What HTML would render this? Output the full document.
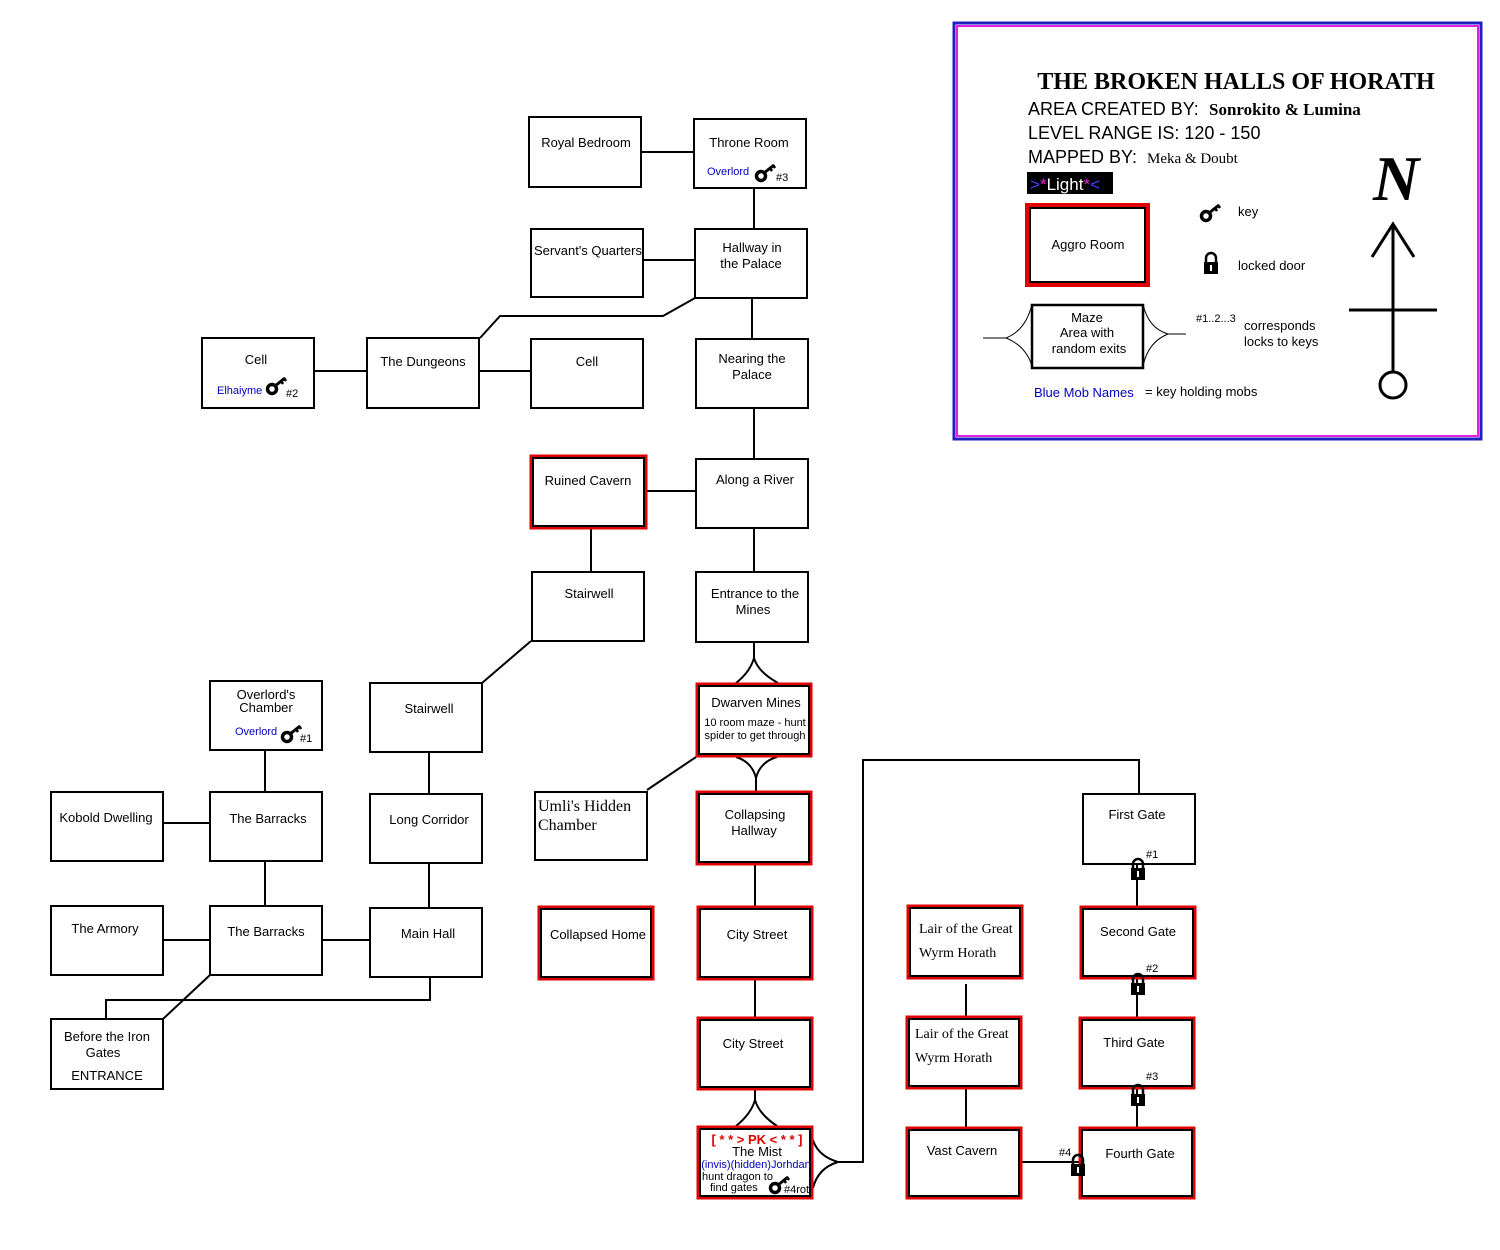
<!DOCTYPE html>
<html><head><meta charset="utf-8"><style>
html,body{margin:0;padding:0;background:#fff;}
svg{display:block;}
text{font-family:"Liberation Sans",sans-serif;font-size:13px;fill:#000;}
.s{font-family:"Liberation Serif",serif;}
.b{fill:#0000c0;font-size:11px;}
</style></head><body>
<svg width="1500" height="1250" viewBox="0 0 1500 1250" xmlns="http://www.w3.org/2000/svg">
<defs>
<g id="key"><circle cx="0" cy="0" r="4.5" fill="none" stroke="#000" stroke-width="3.5"/><line x1="3" y1="-3" x2="13" y2="-11" stroke="#000" stroke-width="3"/><line x1="9" y1="-8" x2="11" y2="-5" stroke="#000" stroke-width="2.5"/><line x1="12" y1="-11" x2="14" y2="-8" stroke="#000" stroke-width="2.5"/></g>
<g id="lock"><path d="M-5,0 v-4 a5,5 0 0 1 10,0 v4" fill="none" stroke="#000" stroke-width="2.5"/><rect x="-7" y="0" width="14" height="12" fill="#000"/><rect x="-1" y="3" width="2" height="6" fill="#fff"/></g>
</defs>
<g fill="none" stroke="#000" stroke-width="2">
<line x1="641" y1="152" x2="694" y2="152"/>
<line x1="754" y1="188" x2="754" y2="229"/>
<line x1="643" y1="260" x2="695" y2="260"/>
<polyline points="695,298 663,316 500,316 480,338"/>
<line x1="314" y1="371" x2="367" y2="371"/>
<line x1="479" y1="371" x2="531" y2="371"/>
<line x1="752" y1="298" x2="752" y2="339"/>
<line x1="754" y1="408" x2="754" y2="459"/>
<line x1="647" y1="491" x2="696" y2="491"/>
<line x1="591" y1="529" x2="591" y2="572"/>
<line x1="754" y1="528" x2="754" y2="572"/>
<line x1="531" y1="641" x2="482" y2="683"/>
<line x1="754" y1="642" x2="754" y2="658"/>
<path d="M736,683 Q750,672 754,658 Q758,672 778,683"/>
<path d="M736,757 Q752,762 756,778 Q760,762 777,757"/>
<line x1="756" y1="778" x2="756" y2="791"/>
<line x1="696" y1="757" x2="647" y2="790"/>
<line x1="265" y1="750" x2="265" y2="792"/>
<line x1="163" y1="823" x2="210" y2="823"/>
<line x1="429" y1="752" x2="429" y2="794"/>
<line x1="265" y1="861" x2="265" y2="906"/>
<line x1="429" y1="863" x2="429" y2="908"/>
<line x1="163" y1="940" x2="210" y2="940"/>
<line x1="322" y1="940" x2="370" y2="940"/>
<line x1="210" y1="975" x2="163" y2="1019"/>
<polyline points="106,1019 106,1000 430,1000 430,977"/>
<line x1="755" y1="865" x2="755" y2="906"/>
<line x1="755" y1="980" x2="755" y2="1017"/>
<line x1="755" y1="1090" x2="755" y2="1100"/>
<path d="M736,1126 Q751,1114 755,1100 Q759,1114 777,1126"/>
<path d="M813,1140 Q818,1156 838,1162 Q818,1168 813,1188"/>
<polyline points="838,1162 863,1162 863,760 1139,760 1139,794"/>
<line x1="1137" y1="864" x2="1137" y2="906"/>
<line x1="1137" y1="979" x2="1137" y2="1017"/>
<line x1="1137" y1="1089" x2="1137" y2="1127"/>
<line x1="1022" y1="1162" x2="1079" y2="1162"/>
<line x1="966" y1="984" x2="966" y2="1016"/>
<line x1="966" y1="1089" x2="966" y2="1127"/>
<rect x="529" y="117" width="112" height="70"/>
<rect x="694" y="119" width="112" height="69"/>
<rect x="531" y="229" width="112" height="68"/>
<rect x="695" y="229" width="112" height="69"/>
<rect x="202" y="338" width="112" height="70"/>
<rect x="367" y="338" width="112" height="70"/>
<rect x="531" y="339" width="112" height="69"/>
<rect x="696" y="339" width="112" height="69"/>
<rect x="696" y="459" width="112" height="69"/>
<rect x="532" y="572" width="112" height="69"/>
<rect x="696" y="572" width="112" height="70"/>
<rect x="210" y="681" width="112" height="69"/>
<rect x="370" y="683" width="112" height="69"/>
<rect x="51" y="792" width="112" height="69"/>
<rect x="210" y="792" width="112" height="69"/>
<rect x="370" y="794" width="112" height="69"/>
<rect x="535" y="792" width="112" height="68"/>
<rect x="1083" y="794" width="112" height="70"/>
<rect x="51" y="906" width="112" height="69"/>
<rect x="210" y="906" width="112" height="69"/>
<rect x="370" y="908" width="112" height="69"/>
<rect x="51" y="1019" width="112" height="70"/>
</g>
<g fill="none">
<g stroke="#e00000" stroke-width="3">
<rect x="531" y="456" width="115" height="72"/>
<rect x="697" y="684" width="114" height="72"/>
<rect x="697" y="792" width="114" height="72"/>
<rect x="539" y="907" width="114" height="72"/>
<rect x="698" y="907" width="114" height="72"/>
<rect x="908" y="906" width="114" height="72"/>
<rect x="1081" y="907" width="114" height="71"/>
<rect x="698" y="1018" width="114" height="71"/>
<rect x="907" y="1017" width="114" height="71"/>
<rect x="1080" y="1018" width="114" height="70"/>
<rect x="698" y="1127" width="114" height="71"/>
<rect x="907" y="1128" width="114" height="70"/>
<rect x="1080" y="1128" width="114" height="70"/>
</g>
<g stroke="#000" stroke-width="2">
<rect x="533" y="458" width="111" height="68"/>
<rect x="699" y="686" width="110" height="68"/>
<rect x="699" y="794" width="110" height="68"/>
<rect x="541" y="909" width="110" height="68"/>
<rect x="700" y="909" width="110" height="68"/>
<rect x="910" y="908" width="110" height="68"/>
<rect x="1083" y="909" width="110" height="67"/>
<rect x="700" y="1020" width="110" height="67"/>
<rect x="909" y="1019" width="110" height="67"/>
<rect x="1082" y="1020" width="110" height="66"/>
<rect x="700" y="1129" width="110" height="67"/>
<rect x="909" y="1130" width="110" height="66"/>
<rect x="1082" y="1130" width="110" height="66"/>
</g>
</g>
<g text-anchor="middle">
<text x="586" y="147">Royal Bedroom</text>
<text x="749" y="147">Throne Room</text>
<text x="588" y="255">Servant's Quarters</text>
<text x="752" y="252">Hallway in</text><text x="751" y="268">the Palace</text>
<text x="256" y="364">Cell</text>
<text x="423" y="366">The Dungeons</text>
<text x="587" y="366">Cell</text>
<text x="752" y="363">Nearing the</text><text x="752" y="379">Palace</text>
<text x="588" y="485">Ruined Cavern</text>
<text x="755" y="484">Along a River</text>
<text x="589" y="598">Stairwell</text>
<text x="755" y="598">Entrance to the</text><text x="753" y="614">Mines</text>
<text x="266" y="699">Overlord's</text><text x="266" y="712">Chamber</text>
<text x="429" y="713">Stairwell</text>
<text x="756" y="707">Dwarven Mines</text>
<text x="755" y="726" style="font-size:11px">10 room maze - hunt</text>
<text x="755" y="739" style="font-size:11px">spider to get through</text>
<text x="106" y="822">Kobold Dwelling</text>
<text x="268" y="823">The Barracks</text>
<text x="429" y="824">Long Corridor</text>
<text x="755" y="819">Collapsing</text><text x="754" y="835">Hallway</text>
<text x="1137" y="819">First Gate</text>
<text x="105" y="933">The Armory</text>
<text x="266" y="936">The Barracks</text>
<text x="428" y="938">Main Hall</text>
<text x="598" y="939">Collapsed Home</text>
<text x="757" y="939">City Street</text>
<text x="1138" y="936">Second  Gate</text>
<text x="107" y="1041">Before the Iron</text><text x="103" y="1057">Gates</text>
<text x="107" y="1080">ENTRANCE</text>
<text x="753" y="1048">City Street</text>
<text x="1134" y="1047">Third Gate</text>
<text x="962" y="1155">Vast Cavern</text>
<text x="1140" y="1158">Fourth Gate</text>
<text x="757" y="1156">The Mist</text>
<text x="757" y="1144" style="fill:#e00000;font-weight:bold;font-size:13px">[ * * &gt; PK &lt; * * ]</text>
<text x="756" y="1168" class="b">(invis)(hidden)Jorhdan</text>
</g>
<text x="538" y="811" class="s" style="font-size:16px">Umli's Hidden</text>
<text x="538" y="830" class="s" style="font-size:16px">Chamber</text>
<text x="919" y="933" class="s" style="font-size:14px">Lair of the Great</text><text x="919" y="957" class="s" style="font-size:14px">Wyrm Horath</text>
<text x="915" y="1038" class="s" style="font-size:14px">Lair of the Great</text><text x="915" y="1062" class="s" style="font-size:14px">Wyrm Horath</text>
<text x="702" y="1180" style="font-size:11px">hunt  dragon to</text>
<text x="710" y="1191" style="font-size:11px">find gates</text>
<text x="707" y="175" class="b">Overlord</text>
<text x="217" y="394" class="b">Elhaiyme</text>
<text x="235" y="735" class="b">Overlord</text>
<use href="#key" x="761" y="176"/><text x="776" y="181" style="font-size:11px">#3</text>
<use href="#key" x="272" y="389"/><text x="286" y="397" style="font-size:11px">#2</text>
<use href="#key" x="287" y="737"/><text x="300" y="742" style="font-size:11px">#1</text>
<use href="#key" x="775" y="1188"/><text x="784" y="1193" style="font-size:11px">#4rot</text>
<use href="#lock" x="1138" y="868"/><text x="1146" y="858" style="font-size:11px">#1</text>
<use href="#lock" x="1138" y="983"/><text x="1146" y="972" style="font-size:11px">#2</text>
<use href="#lock" x="1138" y="1094"/><text x="1146" y="1080" style="font-size:11px">#3</text>
<use href="#lock" x="1078" y="1164"/><text x="1059" y="1156" style="font-size:11px">#4</text>
<rect x="954" y="23" width="527" height="416" fill="none" stroke="#2020c0" stroke-width="3"/>
<rect x="957" y="26" width="521" height="410" fill="none" stroke="#e020e0" stroke-width="2"/>
<text x="1236" y="89" text-anchor="middle" class="s" style="font-size:24px;font-weight:bold">THE BROKEN HALLS OF HORATH</text>
<text x="1028" y="115" style="font-size:18px">AREA CREATED BY:</text>
<text x="1209" y="115" class="s" style="font-size:17px;font-weight:bold">Sonrokito &amp; Lumina</text>
<text x="1028" y="139" style="font-size:18px">LEVEL RANGE IS: 120 - 150</text>
<text x="1028" y="163" style="font-size:18px">MAPPED BY:</text>
<text x="1147" y="163" class="s" style="font-size:15px">Meka &amp; Doubt</text>
<rect x="1027" y="172" width="86" height="22" fill="#000"/>
<text x="1030" y="190" style="font-size:17px;fill:#fff"><tspan style="fill:#4040ff">&gt;</tspan><tspan style="fill:#e020e0">*</tspan>Light<tspan style="fill:#e020e0">*</tspan><tspan style="fill:#4040ff">&lt;</tspan></text>
<rect x="1027" y="205" width="121" height="80" fill="none" stroke="#e00000" stroke-width="4"/>
<rect x="1030" y="208" width="115" height="74" fill="none" stroke="#000" stroke-width="2"/>
<text x="1088" y="249" text-anchor="middle">Aggro Room</text>
<use href="#key" x="1206" y="216"/>
<text x="1238" y="216">key</text>
<use href="#lock" x="1211" y="262"/>
<text x="1238" y="270">locked door</text>
<rect x="1032" y="305" width="111" height="63" fill="none" stroke="#000" stroke-width="2.5"/>
<path d="M983,338 L1006,338 Q1026,330 1032,304 M1006,338 Q1026,346 1032,366 M1168,334 L1186,334 M1168,334 Q1148,328 1143,304 M1168,334 Q1148,342 1143,366" fill="none" stroke="#000" stroke-width="1"/>
<text x="1087" y="322" text-anchor="middle">Maze</text>
<text x="1087" y="337" text-anchor="middle">Area with</text>
<text x="1089" y="353" text-anchor="middle">random exits</text>
<text x="1196" y="322" style="font-size:11px">#1..2...3</text>
<text x="1244" y="330">corresponds</text>
<text x="1244" y="346">locks to keys</text>
<text x="1034" y="397" style="fill:#0000c0">Blue Mob Names</text>
<text x="1145" y="396">= key holding mobs</text>
<text x="1373" y="200" class="s" style="font-size:64px;font-style:italic;font-weight:bold">N</text>
<g stroke="#000" stroke-width="3" fill="none">
<line x1="1393" y1="224" x2="1393" y2="372"/>
<polyline points="1372,257 1393,224 1414,257"/>
<line x1="1349" y1="310" x2="1437" y2="310"/>
<circle cx="1393" cy="385" r="13"/>
</g>
</svg>
</body></html>
